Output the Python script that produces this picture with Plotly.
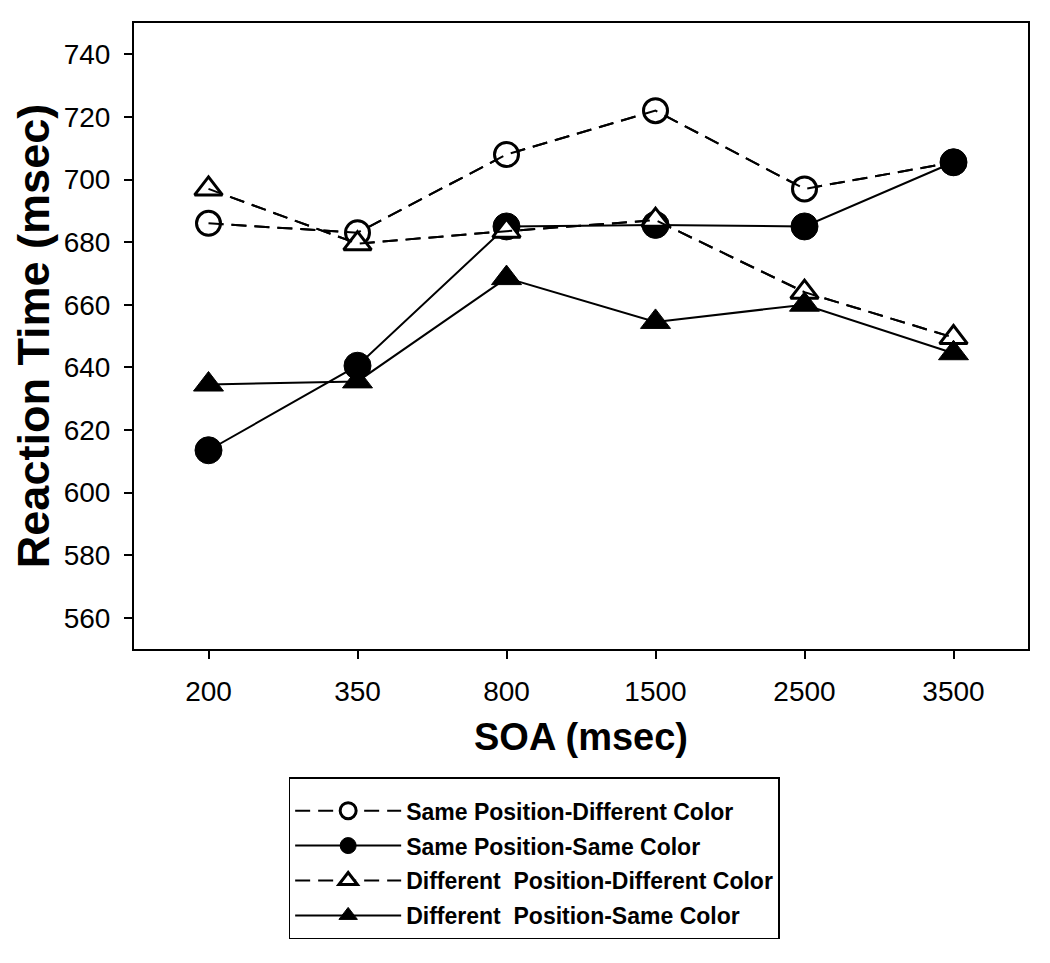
import plotly.graph_objects as go

soa_labels = ["200", "350", "800", "1500", "2500", "3500"]

series_names = [
    "Same Position-Different Color",
    "Same Position-Same Color",
    "Different  Position-Different Color",
    "Different  Position-Same Color",
]
sp_dc = [686, 683, 708, 722, 697, 705.5]
sp_sc = [613.5, 640.5, 685, 685.5, 685, 705.5]
dp_dc = [697, 679.5, 683.5, 687, 664, 649.5]
dp_sc = [634.5, 635.5, 668.5, 654.5, 660, 644.5]

y_ticks = [560, 580, 600, 620, 640, 660, 680, 700, 720, 740]

FONT = "Liberation Sans, Arial, sans-serif"

styles = [
    dict(symbol="circle", size=24, lw=3, fill="white", dash="15px,8px"),
    dict(symbol="circle", size=27, lw=1, fill="black", dash="solid"),
    dict(symbol="triangle-up", size=24, lw=3, fill="white", dash="15px,8px"),
    dict(symbol="triangle-up", size=26, lw=1, fill="black", dash="solid"),
]

fig = go.Figure()
for i, (name, vals) in enumerate(zip(series_names, [sp_dc, sp_sc, dp_dc, dp_sc])):
    st = styles[i]
    fig.add_trace(go.Scatter(
        x=soa_labels, y=vals, name=name, mode="lines+markers",
        legendgroup=f"g{i}",
        line=dict(color="black", width=2, dash=st["dash"]),
        marker=dict(symbol=st["symbol"], size=st["size"], color=st["fill"],
                    line=dict(color="black", width=st["lw"])),
    ))
    if st["fill"] == "white":
        # line drawn over the open symbols, as in the original
        fig.add_trace(go.Scatter(
            x=soa_labels, y=vals, mode="lines", showlegend=False,
            legendgroup=f"g{i}", hoverinfo="skip",
            line=dict(color="black", width=2, dash=st["dash"]),
        ))

fig.update_layout(
    width=1034, height=947,
    margin=dict(l=126, r=12, t=15, b=306),
    paper_bgcolor="white", plot_bgcolor="white",
    font=dict(family=FONT, color="black"),
    showlegend=True,
    legend=dict(
        x=(289 - 134) / 896, xanchor="left", y=-0.205, yanchor="top",
        bordercolor="black", borderwidth=1.5, bgcolor="white",
        font=dict(family=FONT, size=23, color="black", weight="bold"),
        itemwidth=106, tracegroupgap=2, itemsizing="trace",
        title=dict(text=" ", font=dict(size=8)),
    ),
    xaxis=dict(
        type="category", range=[-0.5, 5.5],
        showline=True, linecolor="black", linewidth=2, mirror=True,
        ticks="outside", ticklen=8, tickwidth=2, tickcolor="black",
        tickfont=dict(size=28, family=FONT), showgrid=False, zeroline=False,
        ticklabelstandoff=8,
        title=dict(text="<b>SOA (msec)</b>", font=dict(size=38, family=FONT), standoff=18),
    ),
    yaxis=dict(
        range=[550, 750], tickvals=y_ticks,
        showline=True, linecolor="black", linewidth=2, mirror=True,
        ticks="outside", ticklen=8, tickwidth=2, tickcolor="black",
        tickfont=dict(size=28, family=FONT), showgrid=False, zeroline=False,
        ticklabelstandoff=8,
        title=dict(text="<b>Reaction Time (msec)</b>", font=dict(size=45, family=FONT), standoff=12),
    ),
)

fig.write_html("out.html")
